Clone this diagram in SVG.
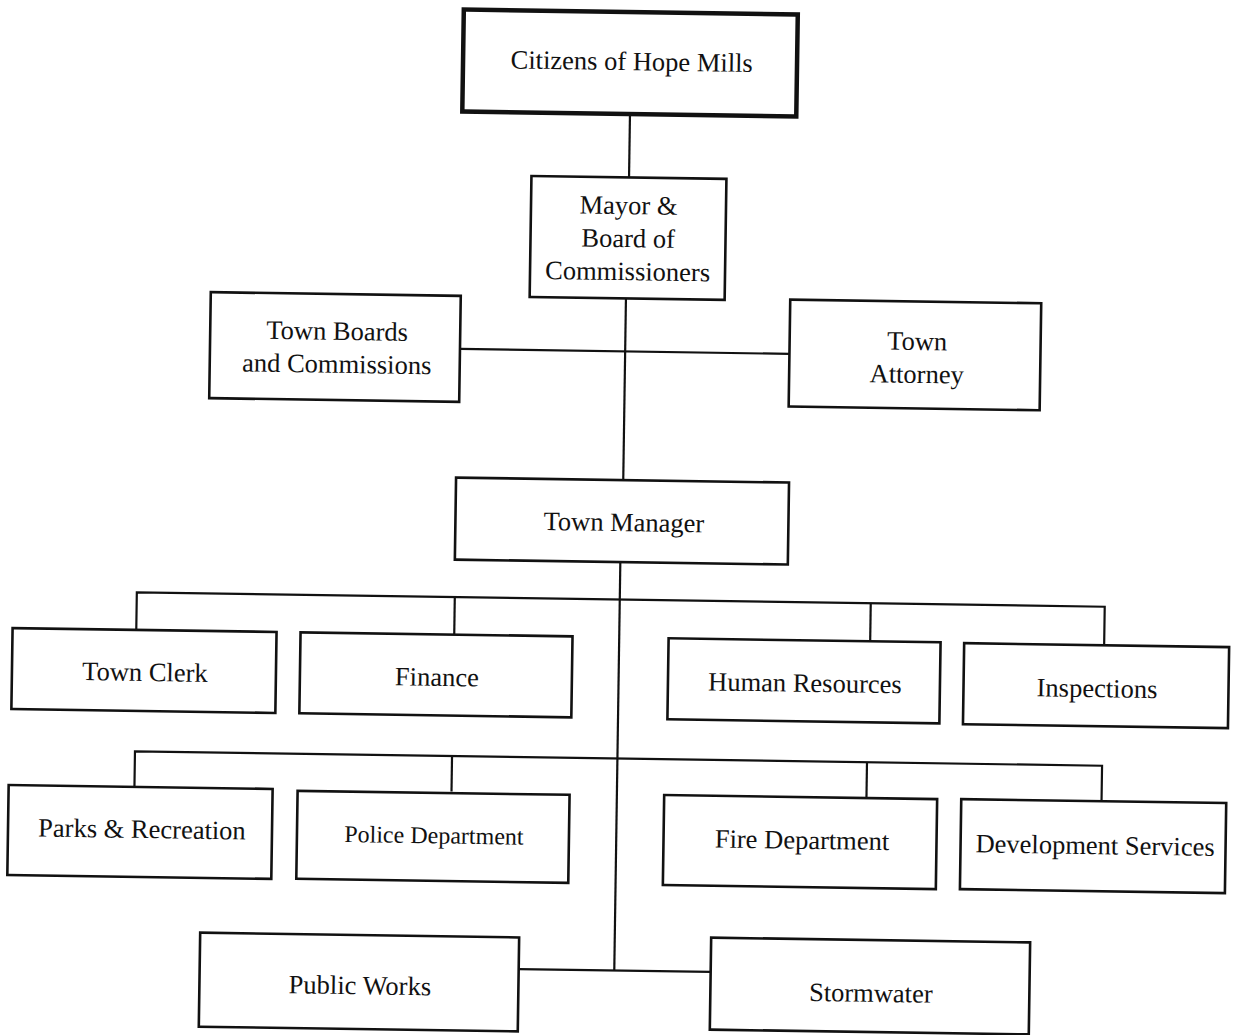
<svg xmlns="http://www.w3.org/2000/svg" width="1233" height="1035" viewBox="0 0 1233 1035">
<style>
  .box { fill: #ffffff; stroke: #111111; stroke-width: 2.6; }
  .thick { stroke-width: 4.5; }
  .conn { fill: none; stroke: #111111; stroke-width: 2.2; }
  text { font-family: "Liberation Serif", "Times New Roman", serif; font-size: 26.5px; fill: #111111; text-anchor: middle; }
  .small { font-size: 24px; }
</style>
<rect width="1233" height="1035" fill="#ffffff"/>
<g transform="rotate(0.85 616 517)">
  <g id="connectors">
    <line class="conn" x1="624" y1="114" x2="624" y2="177"/>
    <line class="conn" x1="622.7" y1="298" x2="622.7" y2="480"/>
    <line class="conn" x1="457.5" y1="351.3" x2="787" y2="351.3"/>
    <line class="conn" x1="621" y1="562" x2="621" y2="970.5"/>
    <polyline class="conn" points="138,637 138,599.5 1106,599.5 1106,637"/>
    <line class="conn" x1="456" y1="599.5" x2="456" y2="637"/>
    <line class="conn" x1="872" y1="599.5" x2="872" y2="637"/>
    <polyline class="conn" points="138.5,794 138.5,758.5 1105.7,758.5 1105.7,794"/>
    <line class="conn" x1="455.6" y1="758.5" x2="455.6" y2="794"/>
    <line class="conn" x1="870.6" y1="758.5" x2="870.6" y2="794"/>
    <line class="conn" x1="525.9" y1="970.5" x2="717.4" y2="970.5"/>
  </g>
  <g id="citizens">
    <rect class="box thick" x="456.3" y="11.8" width="334" height="102"/>
    <text x="625" y="70">Citizens of Hope Mills</text>
  </g>
  <g id="mayor">
    <rect class="box" x="526.4" y="177.3" width="195" height="121"/>
    <text x="624" y="214">Mayor &amp;</text>
    <text x="624" y="247">Board of</text>
    <text x="624" y="280">Commissioners</text>
  </g>
  <g id="town-boards">
    <rect class="box" x="207.5" y="298.2" width="250" height="106"/>
    <text x="334.5" y="344">Town Boards</text>
    <text x="334.5" y="377">and Commissions</text>
  </g>
  <g id="town-attorney">
    <rect class="box" x="787" y="297" width="251" height="107"/>
    <text x="914.6" y="345.5">Town</text>
    <text x="914.6" y="378.5">Attorney</text>
  </g>
  <g id="town-manager">
    <rect class="box" x="455.5" y="480" width="333" height="82"/>
    <text x="624" y="531">Town Manager</text>
  </g>
  <g id="town-clerk">
    <rect class="box" x="14.3" y="637" width="264" height="81"/>
    <text x="147.3" y="688">Town Clerk</text>
  </g>
  <g id="finance">
    <rect class="box" x="302.3" y="637" width="272" height="81"/>
    <text x="439.3" y="688.5">Finance</text>
  </g>
  <g id="human-resources">
    <rect class="box" x="670.4" y="637.5" width="272" height="81"/>
    <text x="807.4" y="689">Human Resources</text>
  </g>
  <g id="inspections">
    <rect class="box" x="966" y="638" width="265" height="81"/>
    <text x="1099.5" y="690">Inspections</text>
  </g>
  <g id="parks-recreation">
    <rect class="box" x="12.7" y="794" width="264" height="90"/>
    <text x="146.7" y="845">Parks &amp; Recreation</text>
  </g>
  <g id="police-department">
    <rect class="box" x="301.7" y="795.5" width="272" height="88"/>
    <text class="small" x="438.7" y="846">Police Department</text>
  </g>
  <g id="fire-department">
    <rect class="box" x="668.3" y="794.3" width="273" height="90"/>
    <text x="806.8" y="846">Fire Department</text>
  </g>
  <g id="development-services">
    <rect class="box" x="965.4" y="794" width="265" height="90"/>
    <text x="1099.9" y="847">Development Services</text>
  </g>
  <g id="public-works">
    <rect class="box" x="206.4" y="938.8" width="319" height="94"/>
    <text x="366.9" y="998">Public Works</text>
  </g>
  <g id="stormwater">
    <rect class="box" x="717.4" y="936.2" width="319" height="92"/>
    <text x="877.9" y="998">Stormwater</text>
  </g>
</g>
</svg>
